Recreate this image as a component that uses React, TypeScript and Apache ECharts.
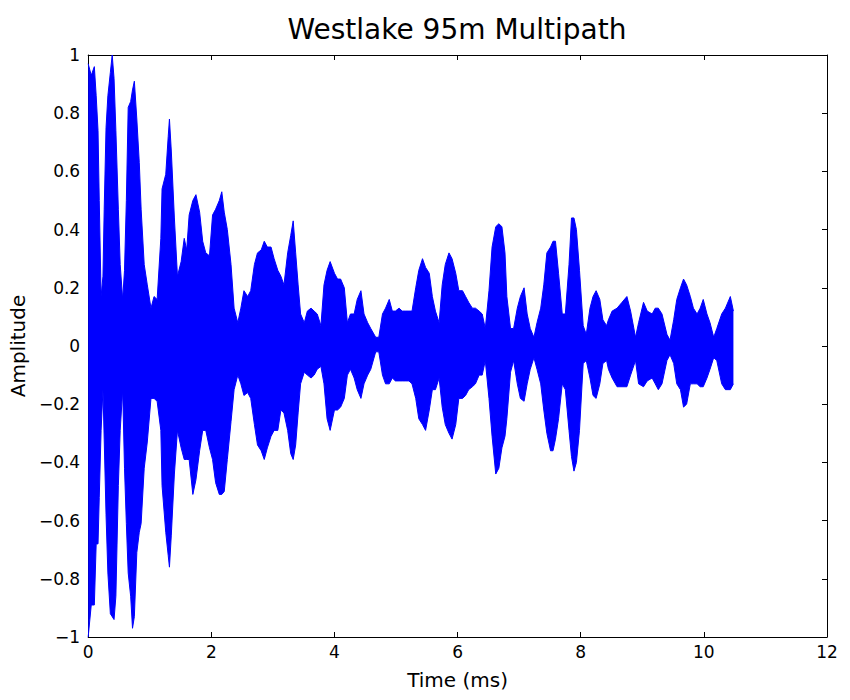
import React, { useEffect, useRef } from "react";
import * as echarts from "echarts";

// Time (ms) of envelope readings
const times = [
  0.0, 0.05, 0.1, 0.13, 0.16, 0.18, 0.21, 0.24, 0.26, 0.29, 0.32, 0.36, 0.39, 0.42, 0.45, 0.49, 0.52, 0.56, 0.59, 0.62,
  0.65, 0.69, 0.72, 0.75, 0.79, 0.83, 0.86, 0.91, 0.96, 1.02, 1.07, 1.12, 1.18, 1.2, 1.26, 1.3, 1.32, 1.35, 1.4, 1.45,
  1.51, 1.56, 1.6, 1.64, 1.7, 1.75, 1.81, 1.86, 1.91, 1.97, 2.02, 2.07, 2.13, 2.17, 2.21, 2.26, 2.32, 2.37, 2.43, 2.48,
  2.53, 2.59, 2.64, 2.7, 2.75, 2.81, 2.86, 2.91, 2.97, 3.02, 3.08, 3.13, 3.18, 3.24, 3.29, 3.33, 3.37, 3.41, 3.45, 3.51,
  3.56, 3.62, 3.67, 3.72, 3.78, 3.83, 3.88, 3.93, 4.0, 4.05, 4.1, 4.16, 4.21, 4.26, 4.32, 4.37, 4.43, 4.48, 4.54, 4.59,
  4.67, 4.72, 4.78, 4.83, 4.89, 4.94, 4.99, 5.05, 5.1, 5.16, 5.21, 5.26, 5.32, 5.37, 5.43, 5.48, 5.54, 5.59, 5.64, 5.7,
  5.75, 5.8, 5.86, 5.91, 5.97, 6.02, 6.08, 6.13, 6.18, 6.24, 6.29, 6.35, 6.4, 6.45, 6.51, 6.56, 6.62, 6.67, 6.72, 6.77,
  6.8, 6.86, 6.91, 6.97, 7.02, 7.08, 7.13, 7.18, 7.24, 7.29, 7.35, 7.4, 7.45, 7.51, 7.55, 7.59, 7.64, 7.7, 7.75, 7.81,
  7.85, 7.89, 7.93, 7.98, 8.04, 8.09, 8.15, 8.2, 8.25, 8.31, 8.36, 8.42, 8.45, 8.51, 8.59, 8.67, 8.75, 8.81, 8.89, 8.94,
  9.02, 9.08, 9.16, 9.21, 9.26, 9.32, 9.4, 9.45, 9.51, 9.56, 9.62, 9.67, 9.72, 9.78, 9.83, 9.89, 9.94, 9.99, 10.05, 10.1,
  10.16, 10.21, 10.29, 10.35, 10.43, 10.48,
];

// Positive peak envelope of the amplitude
const upper = [
  0.97, 0.93, 0.96, 0.86, 0.74, 0.5, 0.17, 0.24, 0.47, 0.75, 0.86, 0.94, 1.0, 0.92, 0.74, 0.47, 0.28, 0.16, 0.26, 0.5,
  0.82, 0.84, 0.88, 0.91, 0.78, 0.63, 0.47, 0.28, 0.21, 0.13, 0.17, 0.16, 0.37, 0.54, 0.59, 0.72, 0.78, 0.67, 0.44, 0.24,
  0.29, 0.37, 0.33, 0.45, 0.5, 0.52, 0.46, 0.36, 0.32, 0.31, 0.45, 0.47, 0.5, 0.53, 0.46, 0.4, 0.28, 0.13, 0.08, 0.13,
  0.19, 0.17, 0.19, 0.28, 0.32, 0.33, 0.36, 0.34, 0.34, 0.3, 0.26, 0.24, 0.21, 0.32, 0.38, 0.43, 0.32, 0.21, 0.11, 0.08,
  0.12, 0.13, 0.12, 0.11, 0.07, 0.21, 0.26, 0.29, 0.25, 0.23, 0.23, 0.2, 0.08, 0.11, 0.11, 0.16, 0.19, 0.11, 0.08, 0.06,
  0.03, 0.03, 0.11, 0.13, 0.16, 0.12, 0.12, 0.13, 0.12, 0.12, 0.12, 0.12, 0.2, 0.26, 0.3, 0.27, 0.25, 0.17, 0.12, 0.08,
  0.21, 0.28, 0.32, 0.3, 0.25, 0.19, 0.19, 0.17, 0.15, 0.13, 0.13, 0.12, 0.11, 0.06, 0.19, 0.34, 0.41, 0.42, 0.41, 0.32,
  0.17, 0.06, 0.06, 0.13, 0.17, 0.2, 0.11, 0.06, 0.03, 0.08, 0.13, 0.21, 0.32, 0.34, 0.36, 0.36, 0.25, 0.11, 0.11, 0.28,
  0.44, 0.44, 0.4, 0.26, 0.07, 0.04, 0.13, 0.17, 0.19, 0.16, 0.09, 0.07, 0.09, 0.12, 0.13, 0.15, 0.17, 0.12, 0.03, 0.08,
  0.15, 0.12, 0.11, 0.13, 0.13, 0.11, 0.04, 0.02, 0.09, 0.16, 0.2, 0.23, 0.21, 0.17, 0.13, 0.11, 0.13, 0.16, 0.11, 0.08,
  0.03, 0.06, 0.11, 0.13, 0.17, 0.12,
];

// Negative peak envelope of the amplitude
const lower = [
  -1.0, -0.89, -0.89, -0.68, -0.68, -0.52, -0.29, -0.15, -0.32, -0.58, -0.78, -0.92, -0.93, -0.94, -0.86, -0.48, -0.29, -0.15, -0.42, -0.61,
  -0.78, -0.86, -0.97, -0.93, -0.71, -0.64, -0.61, -0.42, -0.33, -0.18, -0.18, -0.19, -0.29, -0.48, -0.64, -0.72, -0.76, -0.65, -0.44, -0.29,
  -0.35, -0.39, -0.39, -0.39, -0.51, -0.46, -0.36, -0.29, -0.29, -0.35, -0.39, -0.47, -0.51, -0.51, -0.5, -0.39, -0.26, -0.15, -0.1, -0.13,
  -0.17, -0.16, -0.18, -0.27, -0.34, -0.36, -0.39, -0.35, -0.31, -0.29, -0.29, -0.22, -0.23, -0.29, -0.37, -0.39, -0.34, -0.23, -0.13, -0.09,
  -0.1, -0.11, -0.1, -0.08, -0.07, -0.13, -0.25, -0.29, -0.22, -0.22, -0.21, -0.18, -0.1, -0.08, -0.11, -0.15, -0.18, -0.13, -0.1, -0.08,
  -0.02, -0.02, -0.1, -0.13, -0.13, -0.11, -0.12, -0.12, -0.12, -0.12, -0.12, -0.13, -0.18, -0.25, -0.27, -0.29, -0.22, -0.15, -0.15, -0.11,
  -0.21, -0.27, -0.3, -0.32, -0.27, -0.18, -0.18, -0.17, -0.15, -0.14, -0.13, -0.1, -0.1, -0.05, -0.18, -0.31, -0.44, -0.42, -0.35, -0.31,
  -0.25, -0.09, -0.05, -0.13, -0.18, -0.19, -0.13, -0.08, -0.04, -0.08, -0.13, -0.22, -0.3, -0.36, -0.36, -0.32, -0.25, -0.13, -0.15, -0.29,
  -0.38, -0.43, -0.4, -0.29, -0.06, -0.05, -0.11, -0.17, -0.18, -0.13, -0.06, -0.05, -0.08, -0.11, -0.14, -0.14, -0.14, -0.1, -0.05, -0.13,
  -0.14, -0.12, -0.11, -0.13, -0.15, -0.13, -0.05, -0.03, -0.06, -0.13, -0.15, -0.21, -0.2, -0.13, -0.13, -0.13, -0.14, -0.14, -0.11, -0.08,
  -0.04, -0.05, -0.13, -0.15, -0.15, -0.13,
];

const xTicks = [0, 2, 4, 6, 8, 10, 12];
const yTickStep = 0.2;

const FONT = "'DejaVu Sans', 'Liberation Sans', Arial, sans-serif";

function fmtY(v: number): string {
  const r = Math.round(v * 10) / 10;
  if (r === 0) return "0";
  const s = String(Math.abs(r));
  return r < 0 ? "\u2212" + s : s;
}

export default function App() {
  const ref = useRef<HTMLDivElement>(null);

  useEffect(() => {
    if (!ref.current) return;
    const chart = echarts.init(ref.current, null, { renderer: "svg" });
    const upperData = times.map((t, i) => [t, upper[i]]);
    const lowerData = times.map((t, i) => [t, lower[i]]);

    const axisLine = { show: true, onZero: false, lineStyle: { color: "#000", width: 1 } };
    const axisTick = { show: true, inside: true, length: 5, lineStyle: { color: "#000" } };

    chart.setOption({
      animation: false,
      backgroundColor: "#fff",
      title: {
        text: "Westlake 95m Multipath",
        left: 457,
        textAlign: "center",
        top: 15,
        padding: 0,
        textStyle: { fontFamily: FONT, fontSize: 28, fontWeight: "normal", color: "#000" },
      },
      grid: { left: 87, right: 23, top: 55, bottom: 63, containLabel: false },
      xAxis: [
        {
          type: "value",
          min: xTicks[0],
          max: xTicks[xTicks.length - 1],
          interval: 2,
          position: "bottom",
          name: "Time (ms)",
          nameLocation: "middle",
          nameGap: 33,
          nameTextStyle: { fontFamily: FONT, fontSize: 20, color: "#000" },
          axisLabel: { fontFamily: FONT, fontSize: 17, color: "#000", margin: 6 },
          axisLine,
          axisTick,
          splitLine: { show: false },
        },
        {
          type: "value",
          min: xTicks[0],
          max: xTicks[xTicks.length - 1],
          interval: 2,
          position: "top",
          axisLabel: { show: false },
          axisLine,
          axisTick,
          splitLine: { show: false },
        },
      ],
      yAxis: [
        {
          type: "value",
          min: -1,
          max: 1,
          interval: yTickStep,
          position: "left",
          name: "Amplitude",
          nameLocation: "middle",
          nameGap: 51,
          nameRotate: 90,
          nameTextStyle: { fontFamily: FONT, fontSize: 20, color: "#000" },
          axisLabel: { fontFamily: FONT, fontSize: 17, color: "#000", margin: 8, formatter: fmtY },
          axisLine,
          axisTick,
          splitLine: { show: false },
        },
        {
          type: "value",
          min: -1,
          max: 1,
          interval: yTickStep,
          position: "right",
          axisLabel: { show: false },
          axisLine,
          axisTick,
          splitLine: { show: false },
        },
      ],
      series: [
        {
          type: "line",
          data: upperData,
          showSymbol: false,
          lineStyle: { color: "#0000ff", width: 1 },
          areaStyle: { color: "#0000ff", opacity: 1 },
          z: 2,
        },
        {
          type: "line",
          data: lowerData,
          showSymbol: false,
          lineStyle: { color: "#0000ff", width: 1 },
          areaStyle: { color: "#0000ff", opacity: 1 },
          z: 2,
        },
      ],
    });
    return () => chart.dispose();
  }, []);

  return (
    <div
      ref={ref}
      style={{ position: "absolute", left: 0, top: 0, width: 850, height: 700 }}
    />
  );
}
